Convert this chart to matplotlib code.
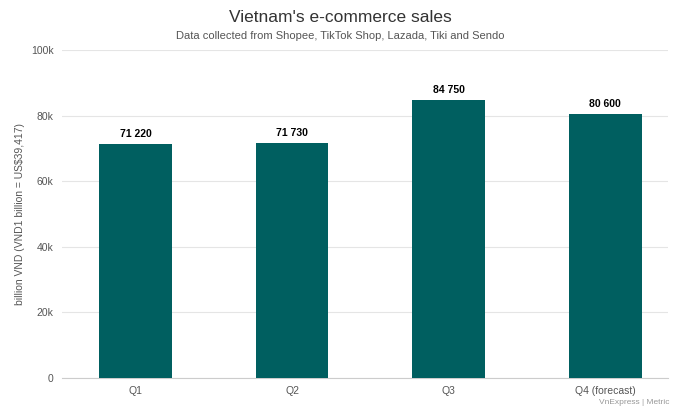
import matplotlib
matplotlib.use("Agg")
import matplotlib.pyplot as plt

# ── Data ───────────────────────────────────────────────────────────────────────
quarters = ["Q1", "Q2", "Q3", "Q4 (forecast)"]
sales = [71220, 71730, 84750, 80600]
y_ticks = [0, 20000, 40000, 60000, 80000, 100000]
y_tick_labels = ["0", "20k", "40k", "60k", "80k", "100k"]

BAR_COLOR = "#005f60"
TEXT_GREY = "#555555"

plt.rcParams["font.family"] = ["Liberation Sans", "DejaVu Sans"]

fig = plt.figure(figsize=(6.8, 4.08), dpi=100)
ax = fig.add_axes([0.091, 0.0735, 0.891, 0.804])

x = range(len(quarters))
bars = ax.bar(x, sales, width=0.465, color=BAR_COLOR, zorder=3)
for bar, val in zip(bars, sales):
    ax.text(bar.get_x() + bar.get_width() / 2, val + 1500,
            f"{val:,}".replace(",", " "), ha="center", va="bottom",
            fontsize=7.5, fontweight="bold", color="black")

ax.set_xlim(-0.47, 3.40)
ax.set_ylim(0, 100000)
ax.set_xticks(list(x))
ax.set_xticklabels(quarters, fontsize=7.5, color=TEXT_GREY)
ax.set_yticks(y_ticks)
ax.set_yticklabels(y_tick_labels, fontsize=7.5, color=TEXT_GREY)
ax.tick_params(axis="both", length=0, pad=6)
ax.grid(axis="y", color="#e5e5e5", linewidth=0.8, zorder=0)
for s in ["top", "right", "left"]:
    ax.spines[s].set_visible(False)
ax.spines["bottom"].set_color("#cccccc")
ax.set_ylabel("billion VND (VND1 billion = US$39,417)", fontsize=7.5, color=TEXT_GREY)

fig.text(0.5, 0.958, "Vietnam's e-commerce sales", ha="center", va="center",
         fontsize=12.5, color="#333333")
fig.text(0.5, 0.912, "Data collected from Shopee, TikTok Shop, Lazada, Tiki and Sendo",
         ha="center", va="center", fontsize=8, color=TEXT_GREY)
fig.text(0.985, 0.004, "VnExpress | Metric", ha="right", va="bottom",
         fontsize=6, color="#999999")

fig.savefig("out.png", dpi=100)
